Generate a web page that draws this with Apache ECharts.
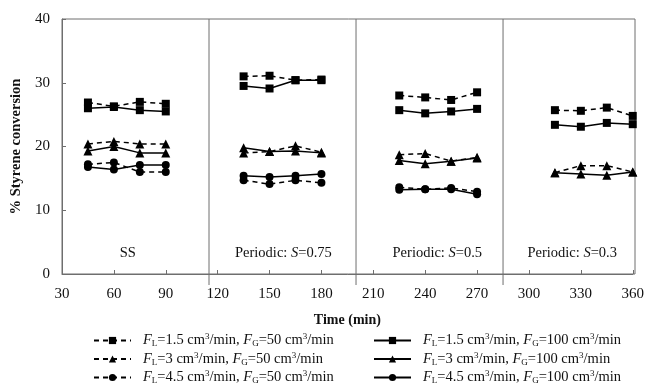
<!DOCTYPE html>
<html><head><meta charset="utf-8">
<script src="https://cdn.jsdelivr.net/npm/echarts@6/dist/echarts.min.js"></script>
<style>html,body{margin:0;padding:0;background:#fff}#c{width:647px;height:387px}</style>
</head><body><div id="c"></div>
<script>
// ---- data ----
const periodTimes = [[45,60,75,90],[135,150,165,180],[225,240,255,270],[315,330,345,360]];
const fl15_fg50  = [[26.9,26.3,27.0,26.7],[31.0,31.1,30.4,30.5],[28.0,27.7,27.3,28.5],[25.7,25.6,26.1,24.8]];
const fl3_fg50   = [[20.4,20.8,20.4,20.4],[19.0,19.2,20.1,19.1],[18.7,18.9,17.7,18.3],[15.9,17.0,17.0,16.0]];
const fl45_fg50  = [[17.2,17.5,16.0,16.0],[14.7,14.1,14.7,14.3],[13.6,13.3,13.5,12.9],null];
const fl15_fg100 = [[26.0,26.2,25.7,25.5],[29.5,29.1,30.4,30.4],[25.7,25.2,25.5,25.9],[23.4,23.1,23.7,23.5]];
const fl3_fg100  = [[19.3,20.0,19.0,19.0],[19.8,19.2,19.3,19.0],[17.8,17.3,17.7,18.2],[15.9,15.7,15.5,16.0]];
const fl45_fg100 = [[16.8,16.4,17.1,17.1],[15.4,15.2,15.4,15.7],[13.2,13.3,13.3,12.5],null];
const separatorTimes = [115,200,285];
const periodLabels = ['SS','Periodic: {i|S}=0.75','Periodic: {i|S}=0.5','Periodic: {i|S}=0.3'];
const periodLabelTimes = [68,158,247,325];
const periodLabelY = 3.3;
const xTicks = {min:30,max:360,interval:30};
const yTicks = {min:0,max:40,interval:10};

const FONT = '"Liberation Serif","Times New Roman",serif';
const TXT = '#111';
const seriesDefs = [
  {name:'a', fl:'1.5', fg:'50',  data:fl15_fg50,  dashed:true,  symbol:'rect',     size:8},
  {name:'b', fl:'3',   fg:'50',  data:fl3_fg50,   dashed:true,  symbol:'triangle', size:9},
  {name:'c', fl:'4.5', fg:'50',  data:fl45_fg50,  dashed:true,  symbol:'circle',   size:8},
  {name:'d', fl:'1.5', fg:'100', data:fl15_fg100, dashed:false, symbol:'rect',     size:8},
  {name:'e', fl:'3',   fg:'100', data:fl3_fg100,  dashed:false, symbol:'triangle', size:9},
  {name:'f', fl:'4.5', fg:'100', data:fl45_fg100, dashed:false, symbol:'circle',   size:8}
];
const legendText = {};
seriesDefs.forEach(d=>{
  legendText[d.name] = '{i|F}{sub|L}=' + d.fl + ' cm{sup|3}/min, {i|F}{sub|G}=' + d.fg + ' cm{sup|3}/min';
});

const series = [];
seriesDefs.forEach(d=>{
  d.data.forEach((vals,p)=>{
    if(!vals) return;
    series.push({
      type:'line', name:d.name, symbol:d.symbol, symbolSize:d.size, showSymbol:true,
      data: periodTimes[p].map((t,i)=>[t,vals[i]]),
      lineStyle:{color:'#000', width:1.5, type: d.dashed?[5,4]:'solid'},
      itemStyle:{color:'#000'}, z:3
    });
  });
});
series.push({
  type:'custom', clip:false, silent:true, z:1,
  data: separatorTimes.map(t=>[t,0]),
  renderItem:function(params, api){
    const top = api.coord([api.value(0), yTicks.max]);
    const bot = api.coord([api.value(0), yTicks.min]);
    return {type:'line', shape:{x1:top[0],y1:top[1],x2:bot[0],y2:bot[1]+11}, style:{stroke:'#6e6e6e', lineWidth:1}};
  }
});
series.push({
  type:'scatter', symbolSize:0, silent:true, itemStyle:{opacity:1},
  data: periodLabelTimes.map((t,i)=>({value:[t,periodLabelY], label:{formatter:periodLabels[i]}})),
  label:{show:true, position:'inside', color:TXT, fontFamily:FONT, fontSize:14.5,
    rich:{i:{fontStyle:'italic', fontFamily:FONT, fontSize:14.5, color:TXT}}}
});

const LH = 15;
const richLegend = {
  i:{fontStyle:'italic', fontFamily:FONT, fontSize:14.5, color:TXT, lineHeight:LH},
  sub:{fontFamily:FONT, fontSize:9, color:TXT, verticalAlign:'bottom', lineHeight:LH-3},
  sup:{fontFamily:FONT, fontSize:9, color:TXT, verticalAlign:'top', lineHeight:LH+1}
};
const legendCommon = {
  orient:'vertical', itemWidth:37, itemHeight:9, itemGap:2.5, height:70, width:270, padding:0,
  textStyle:{fontFamily:FONT, fontSize:14.5, color:TXT, lineHeight:LH, padding:[0,0,0,7], rich:richLegend},
  formatter:n=>legendText[n], selectedMode:false
};

const chart = echarts.init(document.getElementById('c'), null, {renderer:'canvas'});
chart.setOption({
  animation:false,
  grid:{left:62, right:12, top:19, bottom:113},
  xAxis:{type:'value', min:xTicks.min, max:xTicks.max, interval:xTicks.interval,
    name:'Time (min)', nameLocation:'middle', nameGap:39,
    nameTextStyle:{fontFamily:FONT, fontWeight:'bold', fontSize:14, color:TXT},
    axisLine:{lineStyle:{color:'#6e6e6e'}}, axisTick:{inside:true, length:4, lineStyle:{color:'#6e6e6e'}},
    axisLabel:{fontFamily:FONT, fontSize:15, color:TXT, margin:13}, splitLine:{show:false}},
  yAxis:{type:'value', min:yTicks.min, max:yTicks.max, interval:yTicks.interval,
    name:'% Styrene conversion', nameLocation:'middle', nameGap:37, nameRotate:90,
    nameTextStyle:{fontFamily:FONT, fontWeight:'bold', fontSize:14.5, color:TXT},
    axisLine:{show:true, lineStyle:{color:'#6e6e6e'}}, axisTick:{show:true, inside:true, length:4, lineStyle:{color:'#6e6e6e'}},
    axisLabel:{fontFamily:FONT, fontSize:15, color:TXT, margin:12}, splitLine:{show:false}},
  legend:[
    Object.assign({left:93, top:332.5, data:['a','b','c']}, legendCommon),
    Object.assign({left:373, top:332.5, data:['d','e','f']}, legendCommon)
  ],
  graphic:[{type:'rect', silent:true, z:0, shape:{x:62,y:19,width:573,height:255}, style:{fill:'none', stroke:'#6e6e6e', lineWidth:1}}],
  series:series
});
</script></body></html>
